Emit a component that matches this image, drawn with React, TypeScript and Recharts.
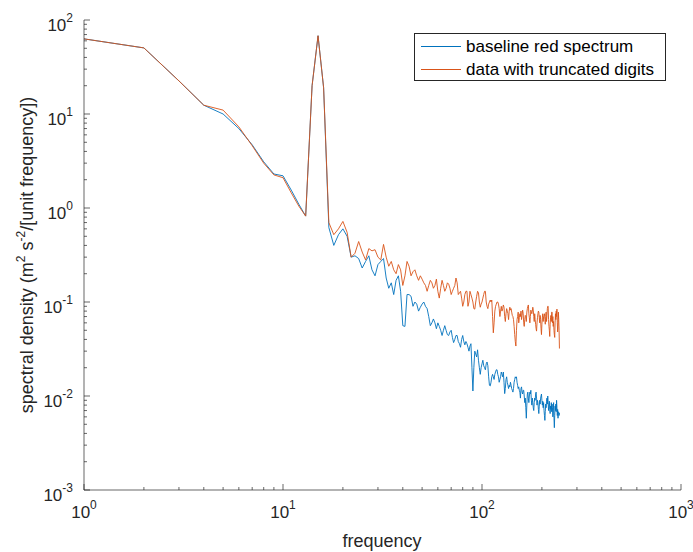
import React from "react";
import { LineChart, Line, XAxis, YAxis } from "recharts";

// frequency bins (1 ... 245)
const frequency = [
  1, 2, 3, 4, 5, 6, 7, 8, 9, 10, 11, 12, 13, 14, 15, 16, 17, 18, 19, 20,
  21, 22, 23, 24, 25, 26, 27, 28, 29, 30, 31, 32, 33, 34, 35, 36, 37, 38, 39, 40,
  41, 42, 43, 44, 45, 46, 47, 48, 49, 50, 51, 52, 53, 54, 55, 56, 57, 58, 59, 60,
  61, 62, 63, 64, 65, 66, 67, 68, 69, 70, 71, 72, 73, 74, 75, 76, 77, 78, 79, 80,
  81, 82, 83, 84, 85, 86, 87, 88, 89, 90, 91, 92, 93, 94, 95, 96, 97, 98, 99, 100,
  101, 102, 103, 104, 105, 106, 107, 108, 109, 110, 111, 112, 113, 114, 115, 116, 117, 118, 119, 120,
  121, 122, 123, 124, 125, 126, 127, 128, 129, 130, 131, 132, 133, 134, 135, 136, 137, 138, 139, 140,
  141, 142, 143, 144, 145, 146, 147, 148, 149, 150, 151, 152, 153, 154, 155, 156, 157, 158, 159, 160,
  161, 162, 163, 164, 165, 166, 167, 168, 169, 170, 171, 172, 173, 174, 175, 176, 177, 178, 179, 180,
  181, 182, 183, 184, 185, 186, 187, 188, 189, 190, 191, 192, 193, 194, 195, 196, 197, 198, 199, 200,
  201, 202, 203, 204, 205, 206, 207, 208, 209, 210, 211, 212, 213, 214, 215, 216, 217, 218, 219, 220,
  221, 222, 223, 224, 225, 226, 227, 228, 229, 230, 231, 232, 233, 234, 235, 236, 237, 238, 239, 240,
  241, 242, 243, 244, 245,
];

// baseline red spectrum
const baselineSpectrum = [
  63, 50.5, 22.5, 12.4, 10.0, 7.0, 4.7, 3.1, 2.3, 2.2,
  1.55, 1.1, 0.82, 20, 68, 19, 0.62, 0.40, 0.52, 0.60,
  0.50, 0.30, 0.31, 0.29, 0.23, 0.27, 0.31, 0.22, 0.19, 0.25,
  0.27, 0.29, 0.18, 0.14, 0.16, 0.12, 0.17, 0.19, 0.13, 0.056,
  0.055, 0.12, 0.12, 0.115, 0.09, 0.10, 0.095, 0.08, 0.088, 0.095,
  0.10, 0.09, 0.085, 0.07, 0.056, 0.06, 0.066, 0.06, 0.052, 0.06,
  0.055, 0.05, 0.044, 0.05, 0.056, 0.05, 0.045, 0.044, 0.048, 0.05,
  0.042, 0.037, 0.04, 0.044, 0.044, 0.038, 0.036, 0.033, 0.04, 0.044,
  0.038, 0.035, 0.038, 0.036, 0.033, 0.03, 0.034, 0.036, 0.02, 0.0113,
  0.02, 0.03, 0.028, 0.026, 0.031, 0.024, 0.02, 0.017, 0.02, 0.022,
  0.024, 0.021, 0.02, 0.019, 0.022, 0.023, 0.021, 0.016, 0.013, 0.0128,
  0.014, 0.016, 0.017, 0.016, 0.015, 0.017, 0.018, 0.019, 0.019, 0.017,
  0.016, 0.014, 0.015, 0.016, 0.018, 0.017, 0.016, 0.018, 0.014, 0.0106,
  0.012, 0.015, 0.016, 0.014, 0.013, 0.012, 0.013, 0.0125, 0.014, 0.013,
  0.012, 0.0115, 0.011, 0.012, 0.014, 0.015, 0.016, 0.0155, 0.016, 0.014,
  0.013, 0.012, 0.0125, 0.0115, 0.011, 0.0095, 0.012, 0.0125, 0.011, 0.0105,
  0.0115, 0.0115, 0.01, 0.0085, 0.0095, 0.0075, 0.0058, 0.008, 0.0105, 0.011,
  0.0095, 0.0085, 0.01, 0.011, 0.0105, 0.0115, 0.009, 0.008, 0.0095, 0.0085,
  0.0075, 0.007, 0.0085, 0.0095, 0.009, 0.0105, 0.011, 0.0095, 0.008, 0.009,
  0.0085, 0.0072, 0.0065, 0.0078, 0.009, 0.0082, 0.0095, 0.01, 0.0105, 0.009,
  0.008, 0.0088, 0.0075, 0.0085, 0.007, 0.0062, 0.0055, 0.0068, 0.0082, 0.0075,
  0.0088, 0.0095, 0.0082, 0.01, 0.0085, 0.007, 0.0078, 0.0088, 0.0072, 0.0065,
  0.0078, 0.0072, 0.0085, 0.0068, 0.0082, 0.0075, 0.006, 0.007, 0.0085, 0.0058,
  0.0046, 0.0062, 0.0078, 0.007, 0.0082, 0.0068, 0.009, 0.0075, 0.0062, 0.0072,
  0.0058, 0.0068, 0.0067, 0.0062, 0.0066,
];

// data with truncated digits
const truncatedSpectrum = [
  63, 50.5, 22.5, 12.4, 11.0, 7.3, 4.6, 3.0, 2.25, 2.1,
  1.45, 1.05, 0.82, 20, 68, 19, 0.70, 0.52, 0.60, 0.72,
  0.55, 0.30, 0.33, 0.44, 0.34, 0.28, 0.37, 0.35, 0.36, 0.30,
  0.28, 0.41, 0.30, 0.24, 0.27, 0.22, 0.20, 0.25, 0.22, 0.15,
  0.19, 0.27, 0.24, 0.19, 0.21, 0.22, 0.19, 0.17, 0.19, 0.175,
  0.16, 0.15, 0.13, 0.15, 0.17, 0.16, 0.14, 0.15, 0.175, 0.13,
  0.11, 0.14, 0.17, 0.15, 0.13, 0.14, 0.16, 0.155, 0.14, 0.12,
  0.13, 0.14, 0.15, 0.18, 0.16, 0.12, 0.125, 0.13, 0.11, 0.09,
  0.10, 0.12, 0.13, 0.13, 0.09, 0.10, 0.13, 0.12, 0.11, 0.10,
  0.085, 0.084, 0.10, 0.115, 0.13, 0.125, 0.10, 0.088, 0.095, 0.10,
  0.11, 0.12, 0.13, 0.13, 0.10, 0.09, 0.085, 0.095, 0.10, 0.105,
  0.10, 0.105, 0.07, 0.047, 0.06, 0.08, 0.09, 0.095, 0.10, 0.10,
  0.095, 0.085, 0.07, 0.08, 0.09, 0.08, 0.085, 0.093, 0.088, 0.07,
  0.062, 0.075, 0.085, 0.08, 0.075, 0.065, 0.08, 0.088, 0.082, 0.085,
  0.078, 0.072, 0.07, 0.065, 0.055, 0.045, 0.038, 0.034, 0.05, 0.065,
  0.07, 0.078, 0.06, 0.068, 0.075, 0.07, 0.08, 0.065, 0.072, 0.082,
  0.076, 0.06, 0.055, 0.065, 0.072, 0.07, 0.062, 0.078, 0.085, 0.09,
  0.093, 0.075, 0.068, 0.06, 0.07, 0.082, 0.078, 0.075, 0.08, 0.088,
  0.082, 0.07, 0.062, 0.075, 0.065, 0.058, 0.052, 0.049, 0.06, 0.068,
  0.075, 0.08, 0.078, 0.068, 0.06, 0.072, 0.065, 0.052, 0.045, 0.058,
  0.068, 0.075, 0.062, 0.07, 0.072, 0.075, 0.065, 0.058, 0.07, 0.078,
  0.062, 0.072, 0.085, 0.09, 0.09, 0.065, 0.055, 0.05, 0.043, 0.058,
  0.068, 0.072, 0.062, 0.078, 0.078, 0.06, 0.07, 0.055, 0.062, 0.05,
  0.045, 0.042, 0.06, 0.075, 0.065, 0.08, 0.07, 0.084, 0.06, 0.048,
  0.055, 0.078, 0.065, 0.05, 0.032,
];

const seriesNames = ["baseline red spectrum", "data with truncated digits"];
const seriesColors = ["#0072BD", "#D95319"];

const xDecades = [1, 10, 100, 1000];
const yDecades = [0.001, 0.01, 0.1, 1, 10, 100];
const minorSteps = [2, 3, 4, 5, 6, 7, 8, 9];

const withMinor = (decades: number[]) => {
  const out: number[] = [];
  decades.forEach((d, i) => {
    out.push(d);
    if (i < decades.length - 1) minorSteps.forEach((m) => out.push(d * m));
  });
  return out;
};

const xTicks = withMinor(xDecades);
const yTicks = withMinor(yDecades);

const data = frequency.map((f, i) => ({
  f,
  baseline: baselineSpectrum[i],
  truncated: truncatedSpectrum[i],
}));

const AXIS = "#262626";
const FONT = "'Liberation Sans', Arial, Helvetica, sans-serif";

const exponentOf = (v: number) => {
  const e = Math.log10(v);
  return Math.abs(e - Math.round(e)) < 1e-6 ? Math.round(e) : null;
};

const BottomTick = (props: any) => {
  const { x, y, payload } = props;
  const e = exponentOf(payload.value);
  return (
    <g>
      <line x1={x} x2={x} y1={y} y2={y - (e !== null ? 6 : 3)} stroke={AXIS} strokeWidth={0.7} />
      {e !== null && (
        <text x={x} y={y + 28} textAnchor="middle" fontSize={17} fill={AXIS} fontFamily={FONT}>
          10
          <tspan dy={-9} fontSize={12}>
            {e}
          </tspan>
        </text>
      )}
    </g>
  );
};

const TopTick = (props: any) => {
  const { x, y, payload } = props;
  const e = exponentOf(payload.value);
  return <line x1={x} x2={x} y1={y} y2={y + (e !== null ? 6 : 3)} stroke={AXIS} strokeWidth={0.7} />;
};

const LeftTick = (props: any) => {
  const { x, y, payload } = props;
  const e = exponentOf(payload.value);
  return (
    <g>
      <line x1={x} x2={x + (e !== null ? 6 : 3)} y1={y} y2={y} stroke={AXIS} strokeWidth={0.7} />
      {e !== null && (
        <text x={x - 11} y={y + 11} textAnchor="end" fontSize={17} fill={AXIS} fontFamily={FONT}>
          10
          <tspan dy={-9} fontSize={12}>
            {e}
          </tspan>
        </text>
      )}
    </g>
  );
};

const RightTick = (props: any) => {
  const { x, y, payload } = props;
  const e = exponentOf(payload.value);
  return <line x1={x} x2={x - (e !== null ? 6 : 3)} y1={y} y2={y} stroke={AXIS} strokeWidth={0.7} />;
};

export default function App() {
  return (
    <div style={{ position: "absolute", left: 0, top: 0, width: 693, height: 552, background: "#fff" }}>
      <LineChart
        width={693}
        height={552}
        data={data}
        margin={{ top: 20, right: 12, bottom: 0, left: 0 }}
      >
        <XAxis
          dataKey="f"
          type="number"
          scale="log"
          domain={[1, 1000]}
          allowDataOverflow
          ticks={xTicks}
          interval={0}
          height={62}
          tickSize={0}
          tickMargin={0}
          tick={<BottomTick />}
          stroke={AXIS}
          strokeWidth={0.7}
        />
        <XAxis
          xAxisId="top"
          orientation="top"
          dataKey="f"
          type="number"
          scale="log"
          domain={[1, 1000]}
          allowDataOverflow
          ticks={xTicks}
          interval={0}
          height={0}
          tickSize={0}
          tickMargin={0}
          tick={<TopTick />}
          stroke={AXIS}
          strokeWidth={0.7}
        />
        <YAxis
          type="number"
          scale="log"
          domain={[0.001, 100]}
          allowDataOverflow
          ticks={yTicks}
          interval={0}
          width={84}
          tickSize={0}
          tickMargin={0}
          tick={<LeftTick />}
          stroke={AXIS}
          strokeWidth={0.7}
        />
        <YAxis
          yAxisId="right"
          orientation="right"
          type="number"
          scale="log"
          domain={[0.001, 100]}
          allowDataOverflow
          ticks={yTicks}
          interval={0}
          width={0}
          tickSize={0}
          tickMargin={0}
          tick={<RightTick />}
          stroke={AXIS}
          strokeWidth={0.7}
        />
        <Line
          dataKey="baseline"
          name={seriesNames[0]}
          stroke={seriesColors[0]}
          strokeWidth={0.9}
          dot={false}
          isAnimationActive={false}
        />
        <Line
          dataKey="truncated"
          name={seriesNames[1]}
          stroke={seriesColors[1]}
          strokeWidth={0.9}
          dot={false}
          isAnimationActive={false}
        />
      </LineChart>

      <svg
        width={693}
        height={552}
        style={{ position: "absolute", left: 0, top: 0, pointerEvents: "none" }}
      >
        <text x={382} y={547} textAnchor="middle" fontSize={18} fill={AXIS} fontFamily={FONT}>
          frequency
        </text>
        <text
          transform="translate(33 255) rotate(-90)"
          textAnchor="middle"
          fontSize={18}
          fill={AXIS}
          fontFamily={FONT}
        >
          spectral density (m
          <tspan dy={-8} fontSize={12}>2</tspan>
          <tspan dy={8}> s</tspan>
          <tspan dy={-8} fontSize={12}>-2</tspan>
          <tspan dy={8}>/[unit frequency])</tspan>
        </text>
      </svg>

      <div
        style={{
          position: "absolute",
          left: 414,
          top: 33,
          width: 250,
          height: 46,
          border: "1px solid #262626",
          background: "#fff",
          fontFamily: FONT,
          fontSize: 17,
          color: "#000",
          boxSizing: "content-box",
        }}
      >
        {seriesNames.map((name, i) => (
          <div key={name} style={{ display: "flex", alignItems: "center", height: 23, marginTop: i === 0 ? 1 : 0 }}>
            <div style={{ width: 40, height: 1, background: seriesColors[i], marginLeft: 6, marginRight: 5 }} />
            <span style={{ whiteSpace: "nowrap" }}>{name}</span>
          </div>
        ))}
      </div>
    </div>
  );
}
